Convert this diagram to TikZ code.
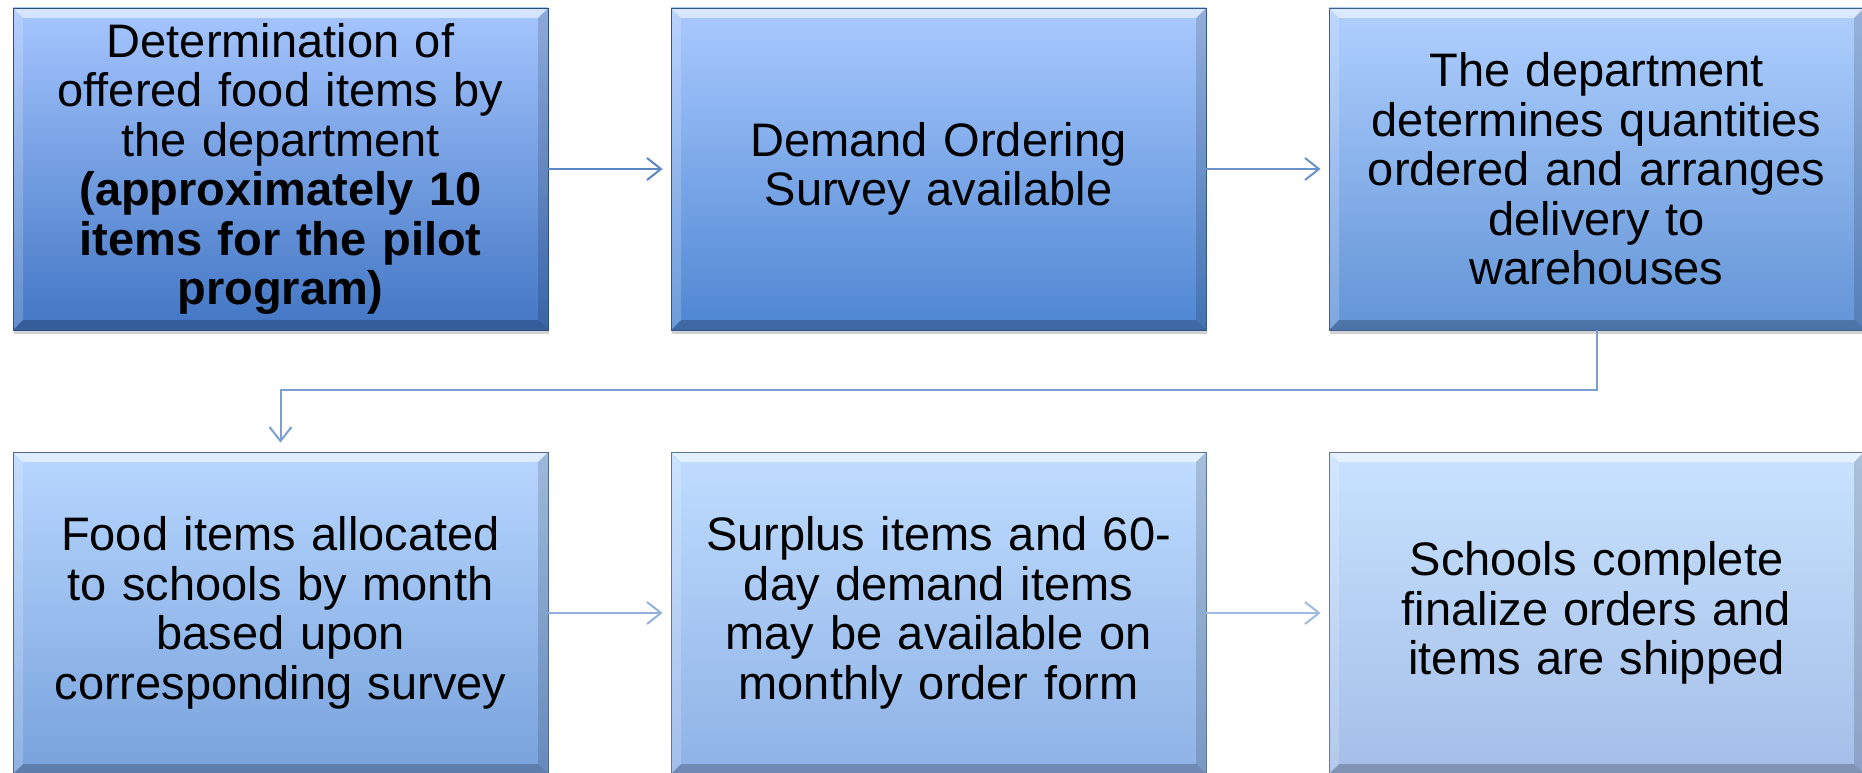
\documentclass[tikz,border=0pt]{standalone}
\usepackage{fontspec}
\setmainfont{Liberation Sans}
\usetikzlibrary{arrows.meta,shadows}
\definecolor{t1}{RGB}{166,198,255}\definecolor{b1}{RGB}{66,118,196}
\definecolor{t2}{RGB}{170,202,255}\definecolor{b2}{RGB}{78,134,210}
\definecolor{t3}{RGB}{176,208,255}\definecolor{b3}{RGB}{98,148,214}
\definecolor{t4}{RGB}{184,215,255}\definecolor{b4}{RGB}{120,162,220}
\definecolor{t5}{RGB}{192,221,255}\definecolor{b5}{RGB}{142,178,230}
\definecolor{t6}{RGB}{200,226,255}\definecolor{b6}{RGB}{164,190,232}
\definecolor{a1}{RGB}{92,134,196}\definecolor{a2}{RGB}{108,146,204}
\definecolor{a3}{RGB}{124,158,210}\definecolor{a4}{RGB}{148,176,220}
\definecolor{a5}{RGB}{160,186,226}
\tikzset{
  procbox/.style={rectangle, minimum width=535pt, minimum height=322pt,
    inner sep=0pt, text width=520pt, align=center,
    font=\fontsize{47}{49.5}\selectfont,
    draw=black!35!#1, line width=0.8pt,
    drop shadow={shadow xshift=1pt, shadow yshift=-4pt, opacity=0.18, fill=black},
    path picture={
      \fill[white,opacity=0.55] (path picture bounding box.north west) -- (path picture bounding box.north east)
        -- ([xshift=-10pt,yshift=-10pt]path picture bounding box.north east) -- ([xshift=10pt,yshift=-10pt]path picture bounding box.north west) -- cycle;
      \fill[white,opacity=0.18] (path picture bounding box.north west) -- ([xshift=10pt,yshift=-10pt]path picture bounding box.north west)
        -- ([xshift=10pt,yshift=10pt]path picture bounding box.south west) -- (path picture bounding box.south west) -- cycle;
      \fill[black,opacity=0.14] (path picture bounding box.north east) -- ([xshift=-10pt,yshift=-10pt]path picture bounding box.north east)
        -- ([xshift=-10pt,yshift=10pt]path picture bounding box.south east) -- (path picture bounding box.south east) -- cycle;
      \fill[black,opacity=0.22] (path picture bounding box.south west) -- ([xshift=10pt,yshift=10pt]path picture bounding box.south west)
        -- ([xshift=-10pt,yshift=10pt]path picture bounding box.south east) -- (path picture bounding box.south east) -- cycle;
    }},
  flow/.style={draw=#1, line width=2pt, -{Straight Barb[length=14pt,width=22pt]}}
}
\begin{document}
\begin{tikzpicture}[x=1pt,y=-1pt]
\useasboundingbox[fill=white] (0,0) rectangle (1862,773);
\node[procbox=b1, top color=t1, bottom color=b1] (n1) at (280.5,169)
  {Determination of\\offered food items by\\the department\\\textbf{(approximately 10}\\\textbf{items for the pilot}\\\textbf{program)}};
\node[procbox=b2, top color=t2, bottom color=b2] (n2) at (938.5,169)
  {Demand Ordering\\Survey available};
\node[procbox=b3, top color=t3, bottom color=b3] (n3) at (1596.5,169)
  {The department\\determines quantities\\ordered and arranges\\delivery to\\warehouses};
\node[procbox=b4, top color=t4, bottom color=b4] (n4) at (280.5,613)
  {Food items allocated\\to schools by month\\based upon\\corresponding survey};
\node[procbox=b5, top color=t5, bottom color=b5] (n5) at (938.5,613)
  {Surplus items and 60-\\day demand items\\may be available on\\monthly order form};
\node[procbox=b6, top color=t6, bottom color=b6] (n6) at (1596.5,613)
  {Schools complete\\finalize orders and\\items are shipped};
\draw[flow=a1] (n1.east) -- ([xshift=-8pt]n2.west);
\draw[flow=a2] (n2.east) -- ([xshift=-8pt]n3.west);
\coordinate (c1) at (1596.5,390);
\coordinate (c2) at (280.5,390);
\draw[flow=a3] (n3.south) -- (c1) -- (c2) -- ([yshift=9pt]n4.north);
\draw[flow=a4] (n4.east) -- ([xshift=-8pt]n5.west);
\draw[flow=a5] (n5.east) -- ([xshift=-8pt]n6.west);
\end{tikzpicture}
\end{document}
